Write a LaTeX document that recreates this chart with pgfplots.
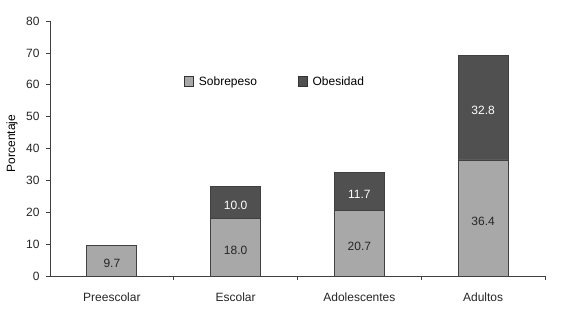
\documentclass[border=0pt]{standalone}
\usepackage{fontspec}
\setmainfont{Liberation Sans}
\usepackage{pgfplots}
\pgfplotsset{compat=1.18}
\definecolor{sobre}{HTML}{A8A8A8}
\definecolor{obes}{HTML}{505050}
\definecolor{axc}{HTML}{404040}
\pgfplotsset{
  base/.style={
    scale only axis,
    width=495pt, height=255pt,
    xmin=-0.5, xmax=3.5, ymin=0, ymax=80,
  }
}
\begin{document}
\begin{tikzpicture}
\begin{axis}[
  base,
  ybar stacked, bar width=50pt,
  axis lines*=left,
  axis line style={axc, line width=0.8pt},
  tick style={axc, line width=0.6pt},
  tick align=outside,
  major tick length=4pt,
  xtick={0.5,1.5,2.5,3.5},
  xticklabels={},
  extra x ticks={0,1,2,3},
  extra x tick labels={Preescolar,Escolar,Adolescentes,Adultos},
  extra x tick style={major tick length=0pt, xticklabel style={yshift=-13pt}},
  ytick={0,10,...,80},
  /pgf/number format/assume math mode=true,
  font=\fontsize{12pt}{14pt}\selectfont,
  ticklabel style={font=\fontsize{12pt}{14pt}\selectfont, text=black!85},
  yticklabel style={xshift=-3pt},
  ylabel={Porcentaje},
  every axis y label/.style={at={(axis description cs:-0.0768,0.52)}, rotate=90, anchor=center, font=\fontsize{12pt}{14pt}\selectfont},
  legend columns=2,
  legend style={draw=none, fill=none, at={(0.271,0.762)}, anchor=west, inner sep=0pt,
    font=\fontsize{12pt}{14pt}\selectfont,
    /tikz/every odd column/.append style={column sep=3pt},
    /tikz/every even column/.append style={column sep=39pt}},
  legend image code/.code={\draw[#1, draw=black!80, line width=0.6pt] (0pt,-5pt) rectangle (9pt,5pt);},
]
\addplot[fill=sobre, draw=black!75, line width=0.8pt] coordinates {(0,9.7) (1,18.0) (2,20.7) (3,36.4)};
\addplot[fill=obes, draw=black!75, line width=0.8pt] coordinates {(0,0) (1,10.0) (2,11.7) (3,32.8)};
\legend{Sobrepeso,Obesidad}
\end{axis}
\begin{axis}[
  base, hide axis,
  nodes near coords, point meta=explicit symbolic,
  every node near coord/.append style={anchor=center, yshift=-3pt, font=\fontsize{12pt}{14pt}\selectfont},
]
\addplot[only marks, mark=none, nodes near coords style={text=black!85}] coordinates {
  (0,4.85) [9.7] (1,9.0) [18.0] (2,10.35) [20.7] (3,18.2) [36.4]};
\addplot[only marks, mark=none, nodes near coords style={text=white}] coordinates {
  (1,23.0) [10.0] (2,26.55) [11.7] (3,52.8) [32.8]};
\end{axis}
\pgfresetboundingbox
\path[use as bounding box] (-50pt,-43pt) rectangle (514pt,276pt);
\end{tikzpicture}
\end{document}
